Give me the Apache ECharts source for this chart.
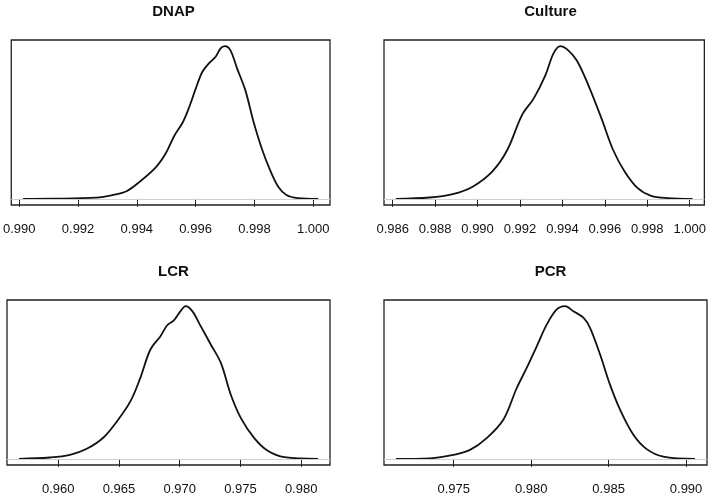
<!DOCTYPE html>
<html>
<head>
<meta charset="utf-8">
<script src="https://cdn.jsdelivr.net/npm/echarts@6/dist/echarts.min.js"></script>
<style>
html, body { margin: 0; padding: 0; background: #fff; }
#main { width: 709px; height: 497px; }
</style>
</head>
<body>
<div id="main"></div>
<script>
// panel titles
var titles = ["DNAP", "Culture", "LCR", "PCR"];

// DNAP density (y scaled so the peak is 1)
var dnapX = [0.99013, 0.99118, 0.99263, 0.99320, 0.99365, 0.99410, 0.99466, 0.99499, 0.99528, 0.99556,
	0.99578, 0.99600, 0.99623, 0.99645, 0.99668, 0.99685, 0.99699, 0.99718, 0.99741, 0.99769,
	0.99797, 0.99825, 0.99853, 0.99881, 0.99909, 0.99948, 1.00017];
var dnapY = [0.000, 0.001, 0.008, 0.026, 0.050, 0.113, 0.210, 0.300, 0.415, 0.500,
	0.600, 0.720, 0.832, 0.887, 0.930, 0.985, 1.000, 0.974, 0.854, 0.712,
	0.505, 0.330, 0.190, 0.080, 0.026, 0.005, 0.000];
var dnapTicks = [0.990, 0.992, 0.994, 0.996, 0.998, 1.000];

// Culture density
var cultureX = [0.98615, 0.98774, 0.98883, 0.98977, 0.99070, 0.99140, 0.99210, 0.99265, 0.99320, 0.99358,
	0.99390, 0.99421, 0.99467, 0.99522, 0.99584, 0.99639, 0.99693, 0.99755, 0.99818, 0.99896, 1.00013];
var cultureY = [0.000, 0.009, 0.031, 0.080, 0.180, 0.320, 0.550, 0.658, 0.810, 0.952,
	1.000, 0.980, 0.908, 0.745, 0.527, 0.320, 0.180, 0.070, 0.020, 0.005, 0.000];
var cultureTicks = [0.986, 0.988, 0.990, 0.992, 0.994, 0.996, 0.998, 1.000];

// LCR density
var lcrX = [0.95677, 0.95931, 0.96097, 0.96235, 0.96373, 0.96483, 0.96594, 0.96676, 0.96759, 0.96842,
	0.96897, 0.96952, 0.97007, 0.97049, 0.97104, 0.97173, 0.97256, 0.97339, 0.97421, 0.97504,
	0.97614, 0.97725, 0.97863, 0.98139];
var lcrY = [0.000, 0.009, 0.026, 0.066, 0.140, 0.245, 0.376, 0.530, 0.716, 0.803,
	0.875, 0.906, 0.967, 1.000, 0.967, 0.869, 0.749, 0.628, 0.420, 0.267,
	0.136, 0.053, 0.011, 0.000];
var lcrTicks = [0.960, 0.965, 0.970, 0.975, 0.980];

// PCR density
var pcrX = [0.97127, 0.97347, 0.97497, 0.97605, 0.97713, 0.97820, 0.97907, 0.97971, 0.98036, 0.98101,
	0.98165, 0.98219, 0.98272, 0.98337, 0.98380, 0.98445, 0.98509, 0.98574, 0.98660, 0.98746,
	0.98853, 0.99058];
var pcrY = [0.000, 0.004, 0.026, 0.059, 0.136, 0.256, 0.464, 0.595, 0.737, 0.880,
	0.978, 1.000, 0.967, 0.924, 0.858, 0.683, 0.486, 0.322, 0.158, 0.064,
	0.015, 0.000];
var pcrTicks = [0.975, 0.980, 0.985, 0.990];

var panels = [
	{x: dnapX, y: dnapY, ticks: dnapTicks},
	{x: cultureX, y: cultureY, ticks: cultureTicks},
	{x: lcrX, y: lcrY, ticks: lcrTicks},
	{x: pcrX, y: pcrY, ticks: pcrTicks}
];

// plot boxes (R style: pad the data range by 4% on each side)
var boxes = [
	{left: 7, top: 40},
	{left: 384, top: 40},
	{left: 7, top: 300},
	{left: 384, top: 300}
];
var boxW = 323, boxH = 165;
var fontFamily = "'Liberation Sans', Arial, Helvetica, sans-serif";

var option = {
	animation: false,
	backgroundColor: '#fff',
	title: [],
	grid: [],
	xAxis: [],
	yAxis: [],
	series: []
};

for(var i = 0; i < panels.length; i++){
	var p = panels[i];
	var b = boxes[i];
	var xmin = p.x[0], xmax = p.x[p.x.length - 1];
	var pad = (xmax - xmin) * 0.04;

	option.title.push({
		text: titles[i],
		left: b.left + boxW / 2,
		top: b.top - 41,
		textAlign: 'center',
		textStyle: {fontFamily: fontFamily, fontSize: 15, fontWeight: 'bold', color: '#111'}
	});

	option.grid.push({
		left: b.left, top: b.top, width: boxW, height: boxH,
		show: true, borderColor: '#222', borderWidth: 1.3, backgroundColor: 'transparent'
	});

	option.xAxis.push({
		type: 'value',
		gridIndex: i,
		min: xmin - pad,
		max: xmax + pad,
		axisLine: {show: false},
		splitLine: {show: false},
		axisTick: {
			show: true, inside: false, length: 8,
			customValues: p.ticks,
			lineStyle: {color: '#222', width: 1}
		},
		axisLabel: {
			show: true, margin: 18,
			customValues: p.ticks,
			fontFamily: fontFamily, fontSize: 13, color: '#111',
			formatter: function(v){ return v.toFixed(3); }
		}
	});

	option.yAxis.push({
		type: 'value',
		gridIndex: i,
		min: -0.04,
		max: 1.04,
		show: false,
		splitLine: {show: false}
	});

	var data = [];
	for(var k = 0; k < p.x.length; k++){
		data.push([p.x[k], p.y[k]]);
	}

	option.series.push({
		type: 'line',
		xAxisIndex: i,
		yAxisIndex: i,
		data: data,
		smooth: 0.35,
		showSymbol: false,
		lineStyle: {color: '#111', width: 1.8},
		markLine: {
			silent: true,
			symbol: 'none',
			label: {show: false},
			lineStyle: {color: '#cfcfcf', width: 1, type: 'solid'},
			data: [{yAxis: 0}]
		}
	});
}

var theChart = echarts.init(document.getElementById('main'), null, {renderer: 'canvas'});
theChart.setOption(option);
</script>
</body>
</html>
